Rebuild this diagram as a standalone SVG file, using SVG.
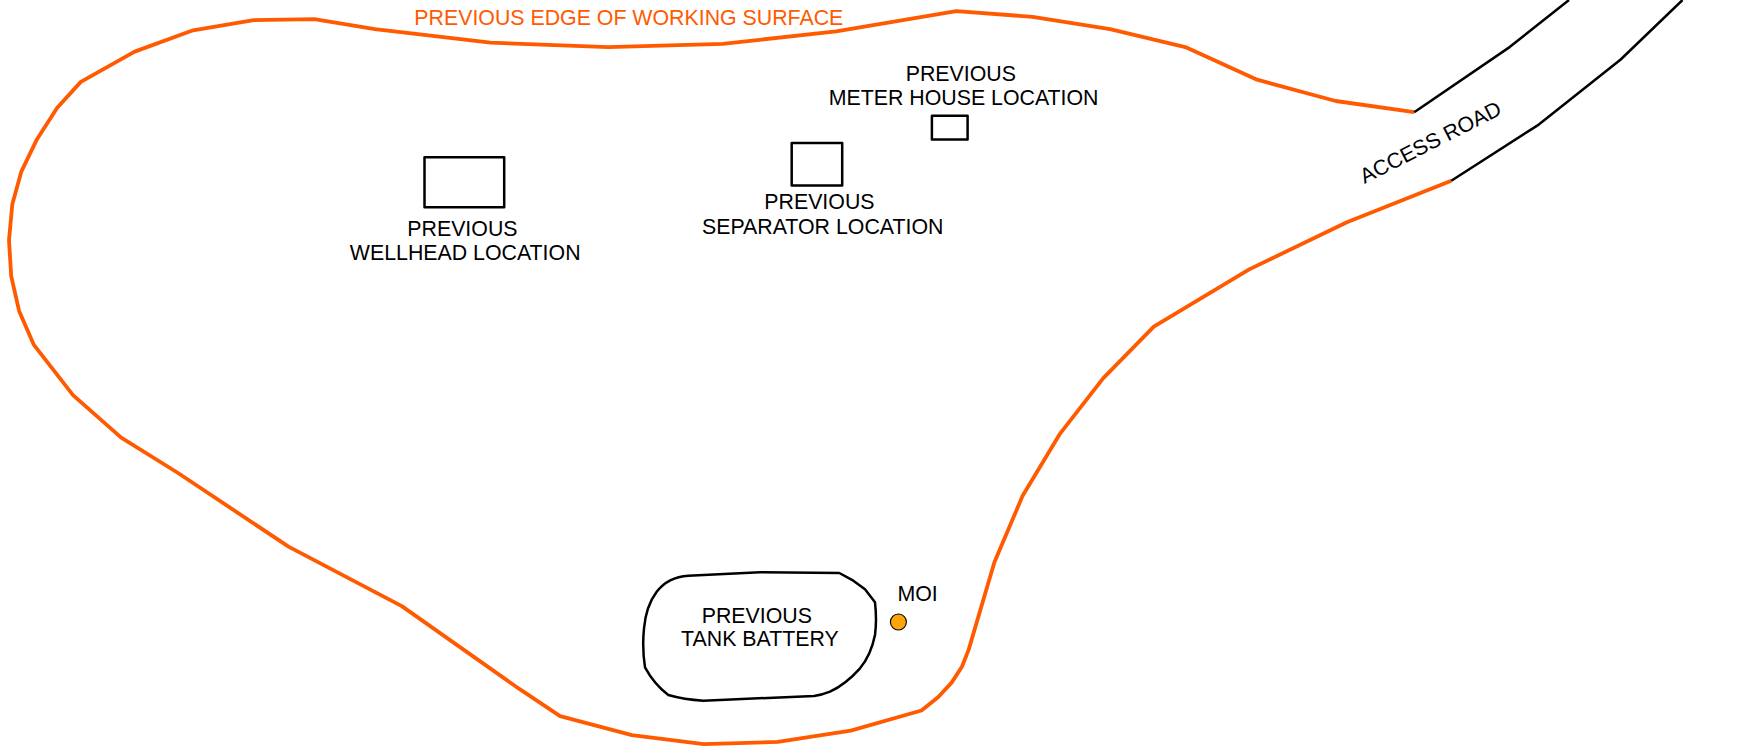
<svg xmlns="http://www.w3.org/2000/svg" width="1760" height="747" viewBox="0 0 1760 747">
<style>
text{font-family:"Liberation Sans",Arial,sans-serif;font-size:21.33px;fill:#000;text-anchor:middle}
.o{fill:none;stroke:#ff5a00;stroke-width:3.800;stroke-linejoin:round}
.k{fill:none;stroke:#000;stroke-width:2.500;stroke-linejoin:round}
</style>
<g id="connectors">
<path class="o" d="M1414.200 112.200L1335.700 101L1257.100 79.700L1185.300 47.100L1110 29.200L1032.600 16.800L956.300 11.200L836.200 31.400L722.800 43.800L608.300 47.100L490.500 42.700L374.900 29.200L314.300 19.100L253.700 20.200L193.100 30.300L134.700 51.600L80.800 81.900L57.200 107.800L37 139.200L21.300 171.700L12.300 204.300L9 240.200L11.200 276.100L19.100 310.900L33.700 344.600L73 395.100L121.200 437.700L177.300 472.500L288.500 546.600L401.800 606.100L519.700 689.200L560.100 716.100L631.900 735.200L703.700 744.100L777.800 741.900L850.800 730.700L921.500 710.500L938.300 697L951.800 682.400L961.900 666.700L968.600 649.900L994.400 562.300L1022.500 496.100L1059.500 434.400L1103.300 378.200L1153.800 326.600L1249.200 269.400L1346.900 222.200L1451.300 180.700"/>
<path class="k" d="M1414.200 112.200L1509.600 47.100L1569 0"/>
<path class="k" d="M1451.300 180.700L1538.800 124.600L1620.700 59.500L1682.500 0"/>
</g>
<g id="wellhead"><rect class="k" x="424.500" y="157.300" width="79.700" height="49.900"/><text x="462.400" y="235.900">PREVIOUS</text><text x="465.200" y="259.700">WELLHEAD LOCATION</text></g>
<g id="separator"><rect class="k" x="791.700" y="142.900" width="50.500" height="42.700"/><text x="819.400" y="209">PREVIOUS</text><text x="822.700" y="233.800">SEPARATOR LOCATION</text></g>
<g id="meter-house"><rect class="k" x="931.900" y="115.800" width="35.700" height="23.600"/><text x="960.800" y="81">PREVIOUS</text><text x="963.600" y="105.200">METER HOUSE LOCATION</text></g>
<g id="tank-battery"><path class="k" d="M688.300 575.700L760 572.300L839.300 573L853.300 580.700L865 589.300L875 602.300Q877 620 875 635Q871 655 860 668.300Q846 684 830 691.700Q822 695 814 696L703.300 700.700Q684 699.500 668.300 695Q654 684 645 667.300Q642 648 644 628.300Q646 606 656.700 591.700Q668 577 688.300 575.700Z"/><text x="756.800" y="622.600">PREVIOUS</text><text x="759.900" y="646.200">TANK BATTERY</text></g>
<g id="moi"><circle cx="898.400" cy="622" r="8" fill="#ffa50a" stroke="#000" stroke-width="1.100"/><text x="917.600" y="600.700">MOI</text></g>
<text x="628.800" y="24.700" style="fill:#ff5a00">PREVIOUS EDGE OF WORKING SURFACE</text>
<text x="1433.700" y="148.700" transform="rotate(-27 1433.700 148.700)">ACCESS ROAD</text>
</svg>
